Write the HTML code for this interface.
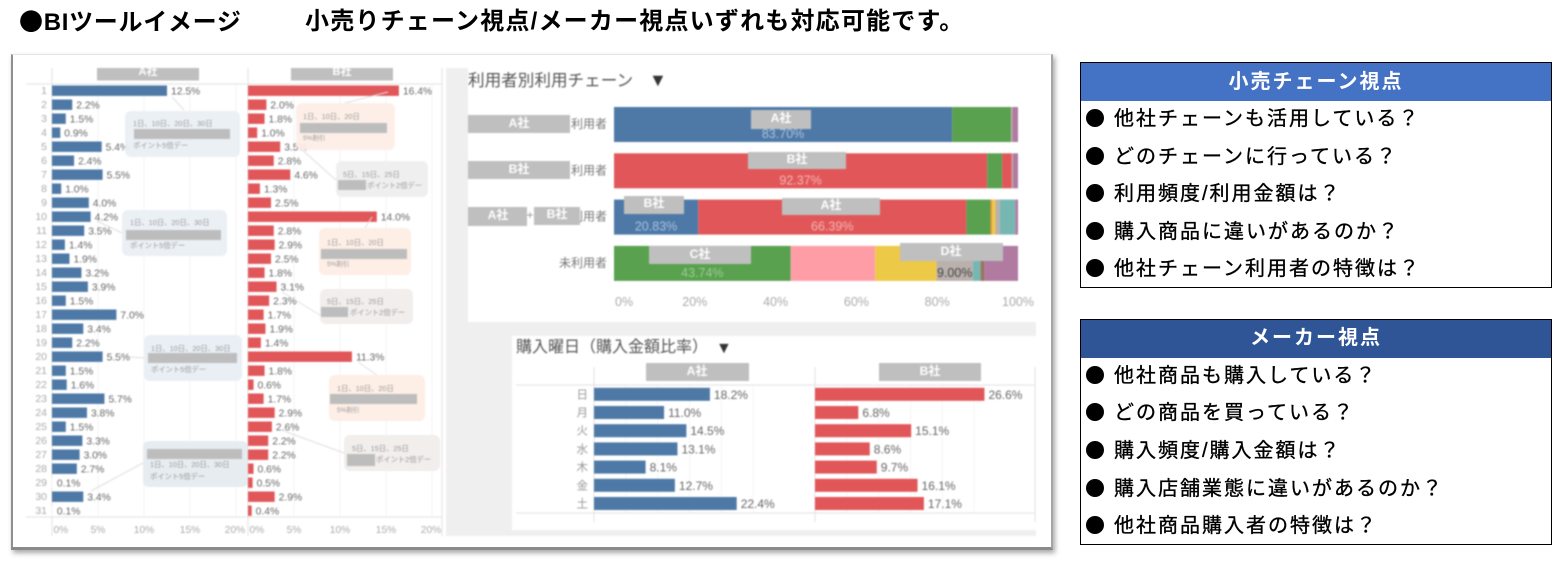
<!DOCTYPE html>
<html lang="ja">
<head>
<meta charset="utf-8">
<title>BIツールイメージ</title>
<style>
html,body{margin:0;padding:0;background:#fff;}
body{position:relative;width:1553px;height:564px;overflow:hidden;font-family:"Liberation Sans","Noto Sans CJK JP",sans-serif;color:#000;}
.abs{position:absolute;}
#page-title,#page-subtitle{top:7px;height:30px;line-height:30px;font-size:24px;font-weight:bold;white-space:nowrap;color:#000;}
#page-title{letter-spacing:.7px;top:5px;}
#page-subtitle{letter-spacing:1.2px;}
#page-title .big-dot{font-family:"Noto Sans CJK JP",sans-serif;}
#card{left:11px;top:54px;width:1038px;height:492px;background:#fff;border-left:2px solid #8f8f8f;border-right:2px solid #a5a5a5;border-bottom:3px solid #8a8a8a;border-top:1px solid #e6e6e6;box-shadow:2px 3px 5px rgba(0,0,0,.35);}
#charts{left:0;top:0;width:1553px;height:564px;filter:blur(.75px);}
svg text{font-family:"Liberation Sans","Noto Sans CJK JP",sans-serif;}
.panel{left:1080px;width:470px;border:1.5px solid #000;background:#fff;}
.panel-head{height:38px;line-height:37px;text-align:center;color:#fff;font-size:20px;font-weight:bold;letter-spacing:2px;}
.row{position:absolute;left:5px;height:37px;line-height:39px;font-size:20px;letter-spacing:2px;white-space:nowrap;-webkit-text-stroke:.35px #000;}
.row .dot{display:inline-block;width:18px;height:18px;border-radius:50%;background:#000;vertical-align:-2px;margin-right:10px;}
</style>
</head>
<body>
<div id="page-title" class="abs" style="left:19px"><span class="big-dot">●</span>BIツールイメージ</div>
<div id="page-subtitle" class="abs" style="left:305px">小売りチェーン視点/メーカー視点いずれも対応可能です。</div>
<div id="card" class="abs"></div>

<svg id="charts" class="abs" viewBox="0 0 1553 564" xmlns="http://www.w3.org/2000/svg">
  <g fill="#efefef">
    <rect x="446" y="68" width="22" height="468"/>
    <rect x="468" y="322" width="568" height="14"/>
    <rect x="468" y="336" width="44" height="200"/>
    <rect x="512" y="530" width="524" height="6"/>
  </g>
  <g id="daily-layer"></g>
  <g font-size="11" font-weight="bold" fill="#fff" text-anchor="middle">
    <rect x="97" y="68" width="102" height="12.5" fill="#bfbfbf"/><text x="148" y="75">A社</text>
    <rect x="291" y="68" width="102" height="12.5" fill="#bfbfbf"/><text x="342" y="75">B社</text>
  </g>
  <g font-size="7.3" fill="#999">
    <g stroke="#dfdfdf" stroke-width="1" fill="none">
      <path d="M172 97L184 110M97 221L122 233M130 357L144 358M91 491L143 463M388 92L345 103M300 148L336 180M372 217L365 228M282 292L320 315M358 362L377 375M284 431L344 453"/>
    </g>
    <g><rect x="125" y="111" width="115" height="46" rx="6" fill="#e9eff4" opacity=".93"/><text x="133" y="126">1日、10日、20日、30日</text><rect x="134" y="129" width="96" height="10" fill="#bdbdbd"/><text x="133" y="148">ポイント5倍デー</text></g>
    <g><rect x="122" y="210" width="105" height="46" rx="6" fill="#e9eff4" opacity=".93"/><text x="130" y="225">1日、10日、20日、30日</text><rect x="126" y="230" width="95" height="10" fill="#bdbdbd"/><text x="130" y="248">ポイント5倍デー</text></g>
    <g><rect x="144" y="335" width="98" height="46" rx="6" fill="#e9eff4"/><text x="151" y="351">1日、10日、20日、30日</text><rect x="148" y="353" width="89" height="10" fill="#bdbdbd"/><text x="151" y="372">ポイント5倍デー</text></g>
    <g><rect x="143" y="441" width="105" height="46" rx="6" fill="#e6ecf0"/><rect x="147" y="449" width="95" height="10" fill="#bdbdbd"/><text x="150" y="467">1日、10日、20日、30日</text><text x="150" y="479">ポイント5倍デー</text></g>
    <g><rect x="296" y="103" width="99" height="47" rx="6" fill="#fdeee6" opacity=".93"/><text x="303" y="119">1日、10日、20日</text><rect x="300" y="123" width="87" height="10" fill="#bdbdbd"/><text x="303" y="140" font-size="6.5">5%割引</text></g>
    <g><rect x="336" y="161" width="92" height="36" rx="6" fill="#efefef"/><text x="343" y="177">5日、15日、25日</text><rect x="338" y="180" width="28" height="10" fill="#bdbdbd"/><text x="367" y="188">ポイント2倍デー</text></g>
    <g><rect x="319" y="228" width="92" height="47" rx="6" fill="#fdeee6"/><text x="327" y="245">1日、10日、20日</text><rect x="321" y="249" width="86" height="10" fill="#bdbdbd"/><text x="327" y="266" font-size="6.5">5%割引</text></g>
    <g><rect x="320" y="289" width="93" height="35" rx="6" fill="#f1eeec"/><text x="327" y="304">5日、15日、25日</text><rect x="321" y="307" width="27" height="10" fill="#bdbdbd"/><text x="350" y="315">ポイント2倍デー</text></g>
    <g><rect x="329" y="375" width="96" height="46" rx="6" fill="#fdeee6"/><text x="337" y="391">1日、10日、20日</text><rect x="330" y="394" width="87" height="10" fill="#bdbdbd"/><text x="337" y="412" font-size="6.5">5%割引</text></g>
    <g><rect x="344" y="435" width="96" height="36" rx="6" fill="#f1eeec"/><text x="352" y="451">5日、15日、25日</text><rect x="347" y="454" width="28" height="12" fill="#bdbdbd"/><text x="376" y="462">ポイント2倍デー</text></g>
  </g>

  <text x="468" y="86" font-size="16.6" fill="#555">利用者別利用チェーン</text>
  <text x="649" y="86" font-size="18" fill="#333">▼</text>
  <g id="stack-layer"></g>
  <g font-size="12" font-weight="bold" fill="#fff" text-anchor="middle">
    <rect x="468" y="115" width="102" height="18" fill="#bfbfbf"/><text x="519" y="124" dominant-baseline="middle">A社</text>
    <rect x="468" y="161" width="102" height="18" fill="#bfbfbf"/><text x="519" y="170" dominant-baseline="middle">B社</text>
    <rect x="468" y="207" width="59" height="19" fill="#bfbfbf"/><text x="498" y="216" dominant-baseline="middle">A社</text>
    <text x="530" y="216" dominant-baseline="middle" fill="#999" font-weight="normal">+</text>
    <rect x="534" y="207" width="46" height="18" fill="#bfbfbf"/><text x="557" y="215" dominant-baseline="middle">B社</text>
    <rect x="751" y="110" width="60" height="19" fill="#bfbfbf"/><text x="781" y="119" dominant-baseline="middle">A社</text>
    <rect x="748" y="152" width="98" height="17" fill="#bfbfbf"/><text x="797" y="160" dominant-baseline="middle">B社</text>
    <rect x="624" y="196" width="60" height="18" fill="#bfbfbf"/><text x="654" y="204" dominant-baseline="middle">B社</text>
    <rect x="782" y="198" width="98" height="17" fill="#bfbfbf"/><text x="831" y="206" dominant-baseline="middle">A社</text>
    <rect x="649" y="246" width="102" height="18" fill="#bfbfbf"/><text x="700" y="255" dominant-baseline="middle">C社</text>
    <rect x="900" y="243" width="103" height="18" fill="#bfbfbf"/><text x="951" y="252" dominant-baseline="middle">D社</text>
  </g>

  <rect x="512" y="336" width="524" height="194" fill="#fff"/>
  <text x="516" y="352" font-size="16" fill="#555">購入曜日（購入金額比率）</text>
  <text x="716" y="353" font-size="16" fill="#333">▼</text>
  <g id="weekday-layer"></g>
  <g font-size="12" font-weight="bold" fill="#fff" text-anchor="middle">
    <rect x="646" y="363" width="103" height="18" fill="#bfbfbf"/><text x="697" y="372" dominant-baseline="middle">A社</text>
    <rect x="879" y="363" width="102" height="18" fill="#bfbfbf"/><text x="930" y="372" dominant-baseline="middle">B社</text>
  </g>
</svg>

<div class="abs panel" style="top:62px;height:224px">
  <div class="panel-head" style="background:#4472c4;line-height:39px">小売チェーン視点</div>
  <div class="row" style="top:37px"><span class="dot"></span>他社チェーンも活用している？</div>
  <div class="row" style="top:75px"><span class="dot"></span>どのチェーンに行っている？</div>
  <div class="row" style="top:112px"><span class="dot"></span>利用頻度/利用金額は？</div>
  <div class="row" style="top:150px"><span class="dot"></span>購入商品に違いがあるのか？</div>
  <div class="row" style="top:187px"><span class="dot"></span>他社チェーン利用者の特徴は？</div>
</div>
<div class="abs panel" style="top:319px;height:224px">
  <div class="panel-head" style="background:#2f5597">メーカー視点</div>
  <div class="row" style="top:37px"><span class="dot"></span>他社商品も購入している？</div>
  <div class="row" style="top:74px"><span class="dot"></span>どの商品を買っている？</div>
  <div class="row" style="top:112px"><span class="dot"></span>購入頻度/購入金額は？</div>
  <div class="row" style="top:150px"><span class="dot"></span>購入店舗業態に違いがあるのか？</div>
  <div class="row" style="top:187px"><span class="dot"></span>他社商品購入者の特徴は？</div>
</div>

<script>
const dayCategories = [1,2,3,4,5,6,7,8,9,10,11,12,13,14,15,16,17,18,19,20,21,22,23,24,25,26,27,28,29,30,31];
const dailyA = [12.5,2.2,1.5,0.9,5.4,2.4,5.5,1.0,4.0,4.2,3.5,1.4,1.9,3.2,3.9,1.5,7.0,3.4,2.2,5.5,1.5,1.6,5.7,3.8,1.5,3.3,3.0,2.7,0.1,3.4,0.1];
const dailyB = [16.4,2.0,1.8,1.0,3.5,2.8,4.6,1.3,2.5,14.0,2.8,2.9,2.5,1.8,3.1,2.3,1.7,1.9,1.4,11.3,1.8,0.6,1.7,2.9,2.6,2.2,2.2,0.6,0.5,2.9,0.4];
const dailyTicks = [0,5,10,15,20];

const stackRows = ['利用者','利用者','利用者','未利用者'];
const stackTicks = [0,20,40,60,80,100];
const stackBlue = [83.70,0,20.83,0];
const stackRed = [0,92.37,66.39,0];
const stackGreen = [14.6,3.7,6.0,43.74];
const stackRedSecond = [0,2.4,0,0];
const stackPink = [0,0,0,20.9];
const stackOrange = [0,0,0.4,0];
const stackYellow = [0,0,0.8,15.2];
const stackTan = [0.3,0.3,1.1,9.00];
const stackTeal = [0,0,3.8,1.9];
const stackBrown = [0,0,0,1.0];
const stackPurple = [1.4,1.23,0.68,8.26];

const weekdays = ['日','月','火','水','木','金','土'];
const weekdayA = [18.2,11.0,14.5,13.1,8.1,12.7,22.4];
const weekdayB = [26.6,6.8,15.1,8.6,9.7,16.1,17.1];
const weekdayGridTicks = [5,10,15,20,25];

const NS = 'http://www.w3.org/2000/svg';
function make(parent, tag, attrs, text) {
  const el = document.createElementNS(NS, tag);
  for (const k in attrs) el.setAttribute(k, attrs[k]);
  if (text !== undefined) el.textContent = text;
  parent.appendChild(el);
  return el;
}
const BLUE = '#4e79a7', RED = '#e15759';

/* ---------- daily small multiples ---------- */
const daily = document.getElementById('daily-layer');
const dailyXA = v => 52 + v * 9.2;
const dailyXB = v => 248 + v * 9.2;
const dailyY = i => 90.7 + i * 14;

[dailyXA, dailyXB].forEach(function (xf) {
  dailyTicks.forEach(function (t) {
    const g = make(daily, 'line', {x1: xf(t), x2: xf(t), y1: 84, y2: 517, stroke: '#f3f3f3', 'stroke-width': 1});
    
    
    const anchor = t === 0 ? 'start' : 'middle';
    const lab = make(daily, 'text', {x: t === 0 ? xf(t) + 1.5 : xf(t) - (t === 20 ? 1 : 0), y: 533, 'font-size': 10.2, fill: '#aaa', 'text-anchor': anchor}, t + '%');
    
    
  });
});
[[26,84,442,84],[26,517,442,517],[52,68,52,536],[248,68,248,536],[442,68,442,536]].forEach(function (c) {
  const rule = make(daily, 'line', {x1: c[0], y1: c[1], x2: c[2], y2: c[3], stroke: '#e2e2e2', 'stroke-width': 1});
  
  
});
dayCategories.forEach(function (d, i) {
  const y = dailyY(i);
  const lab = make(daily, 'text', {x: 47, y: y + 3.5, 'font-size': 10.5, fill: '#aaa', 'text-anchor': 'end'}, d);
  
  
  [[dailyA, dailyXA, BLUE, 'a'], [dailyB, dailyXB, RED, 'b']].forEach(function (s) {
    const v = s[0][i];
    const bar = make(daily, 'rect', {x: s[1](0), y: y - 5.2, width: s[1](v) - s[1](0), height: 10.4, fill: v < 0.2 ? '#fff' : s[2]});
    
    
    const val = make(daily, 'text', {x: s[1](v) + 4, y: y + 4, 'font-size': 10.3, fill: '#666'}, v.toFixed(1) + '%');
    
    
  });
});

/* ---------- stacked chain usage ---------- */
const stack = document.getElementById('stack-layer');
const stackX = v => 614 + v * 4.04;
const stackY = i => 107 + i * 46.3;
const stackSeries = [
  ['blue', stackBlue, BLUE, '#a9c1dd', 9],
  ['red', stackRed, RED, '#f6b4b4', 9],
  ['green', stackGreen, '#59a14f', '#9ccb95', 20],
  ['red-second', stackRedSecond, RED, null, 0],
  ['pink', stackPink, '#ff9da7', null, 0],
  ['orange', stackOrange, '#f28e2b', null, 0],
  ['yellow', stackYellow, '#edc948', null, 0],
  ['tan', stackTan, '#bab0ac', '#444', 5],
  ['teal', stackTeal, '#76b7b2', null, 0],
  ['brown', stackBrown, '#9c755f', null, 0],
  ['purple', stackPurple, '#b07aa1', null, 0]
];
stackTicks.forEach(function (t) {
  const lab = make(stack, 'text', {x: t === 0 ? stackX(t) + 1 : stackX(t), y: 306, 'font-size': 12.5, fill: '#aaa', 'text-anchor': t === 0 ? 'start' : 'middle'}, t + '%');
  
  
});
stackRows.forEach(function (r, i) {
  const lab = make(stack, 'text', {x: 607, y: stackY(i) + 21, 'font-size': 12, fill: '#777', 'text-anchor': 'end'}, r);
  
  
  let acc = 0;
  stackSeries.forEach(function (s) {
    const v = s[1][i];
    if (v <= 0) return;
    const seg = make(stack, 'rect', {x: stackX(acc), y: stackY(i), width: stackX(acc + v) - stackX(acc), height: 35, fill: s[2]});
    
    
    acc += v;
  });
});
stackRows.forEach(function (r, i) {
  let acc = 0;
  stackSeries.forEach(function (s) {
    const v = s[1][i];
    if (s[3] && v >= s[4]) {
      const pct = make(stack, 'text', {x: stackX(acc + v / 2), y: stackY(i) + 31, 'font-size': 12.5, fill: s[3], 'text-anchor': 'middle'}, v.toFixed(2) + '%');
      
      
    }
    acc += v;
  });
});

/* ---------- weekday small multiples ---------- */
const wk = document.getElementById('weekday-layer');
const wkXA = v => 594 + v * 6.37;
const wkXB = v => 815 + v * 6.37;
const wkY = i => 394.3 + i * 18.2;
[wkXA, wkXB].forEach(function (xf) {
  weekdayGridTicks.forEach(function (t) {
    const g = make(wk, 'line', {x1: xf(t), x2: xf(t), y1: 385, y2: 513, stroke: '#f5f5f5', 'stroke-width': 1});
    
    
  });
});
[[516,385,1035,385],[516,513,1035,513],[594,367,594,522],[815,367,815,522],[1035,367,1035,522]].forEach(function (c) {
  const rule = make(wk, 'line', {x1: c[0], y1: c[1], x2: c[2], y2: c[3], stroke: '#e2e2e2', 'stroke-width': 1});
  
  
});
weekdays.forEach(function (d, i) {
  const y = wkY(i);
  const lab = make(wk, 'text', {x: 588, y: y + 4, 'font-size': 11.5, fill: '#999', 'text-anchor': 'end'}, d);
  
  
  [[weekdayA, wkXA, BLUE, 'a'], [weekdayB, wkXB, RED, 'b']].forEach(function (s) {
    const v = s[0][i];
    const bar = make(wk, 'rect', {x: s[1](0), y: y - 6.5, width: s[1](v) - s[1](0), height: 13, fill: s[2]});
    
    
    const val = make(wk, 'text', {x: s[1](v) + 4, y: y + 4.5, 'font-size': 12, fill: '#666'}, v.toFixed(1) + '%');
    
    
  });
});
</script>
</body>
</html>
